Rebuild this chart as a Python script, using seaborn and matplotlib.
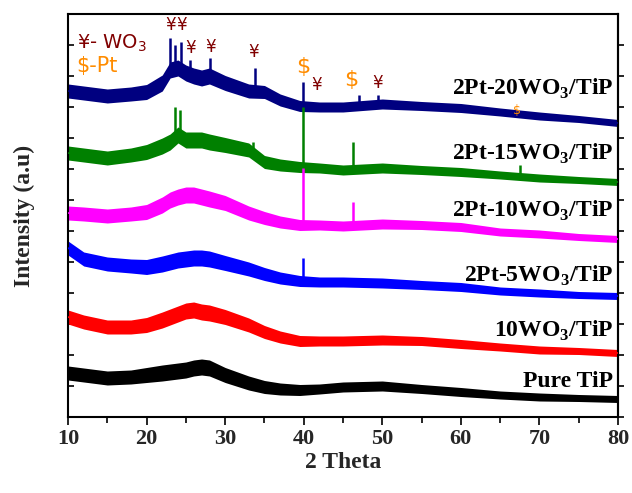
import numpy as np
import pandas as pd
import matplotlib
matplotlib.use("Agg")
import matplotlib.pyplot as plt
import seaborn as sns

# ---------------- data ----------------
theta = [10, 12, 15, 18, 20, 22, 23, 24, 25, 26, 27, 28, 30, 33, 35, 37, 39.5,
         42, 45, 50, 55, 60, 65, 70, 75, 80]

pure_tip = [44, 42, 39, 40, 42, 44, 45, 46, 47, 49, 50, 49, 42, 34, 30, 28, 27,
            28, 30, 31, 28, 25, 22, 20, 19, 18]
wo3_10_tip = [100, 95, 90, 90, 92, 97, 100, 103, 106, 107, 105, 104, 100, 92, 85,
              80, 76, 76, 76, 77, 76, 73, 70, 67, 66, 64]
pt2_wo3_5 = [169, 158, 153, 151, 150, 153, 155, 157, 158, 159, 159, 158, 154, 148,
             143, 139, 136, 135, 135, 134, 132, 130, 126, 124, 122, 121]
pt2_wo3_10 = [204, 203, 201, 203, 205, 212, 217, 220, 222, 222, 220, 218, 214, 204,
              199, 195, 192, 192, 191, 193, 192, 190, 185, 183, 180, 178]
pt2_wo3_15 = [264, 262, 259, 262, 265, 271, 275, 282, 277, 277, 277, 275, 272, 267,
              255, 252, 250, 249, 247, 249, 247, 245, 242, 239, 237, 235]
pt2_wo3_20 = [326, 324, 321, 323, 325, 334, 347, 349, 344, 341, 339, 341, 334, 326,
              325, 317, 311, 310, 310, 313, 311, 309, 305, 301, 298, 294]

# half-width of the noisy band around each pattern
noise_halfwidth = [7, 7, 7, 7, 7.5, 8, 8, 8, 8, 8, 8, 8, 7.5, 7, 6.5, 6, 5.5,
                   5, 5, 5, 4.5, 4.5, 4, 4, 3.5, 3.5]

series_names = ["Pure TiP", "10WO$_3$/TiP", "2Pt-5WO$_3$/TiP",
                "2Pt-10WO$_3$/TiP", "2Pt-15WO$_3$/TiP", "2Pt-20WO$_3$/TiP"]
series_values = [pure_tip, wo3_10_tip, pt2_wo3_5, pt2_wo3_10, pt2_wo3_15, pt2_wo3_20]
series_colors = ["#000000", "#FF0000", "#0000FF", "#FF00FF", "#008000", "#000080"]

# sharp reflections: (series index, 2theta, base, top)
peak_series = [5, 5, 5, 5, 5, 5, 5, 5, 5, 4, 4, 4, 4, 4, 4, 3, 3, 2]
peak_theta = [23.0, 23.6, 24.4, 25.5, 28.1, 33.8, 39.9, 47.0, 49.5,
              23.6, 24.3, 33.6, 39.9, 46.3, 67.5, 39.9, 46.3, 39.9]
peak_base = [347, 349, 349, 344, 341, 326, 310, 311, 313,
             282, 282, 267, 249, 248, 240, 192, 192, 135]
peak_top = [379, 372, 375, 357, 359, 349, 335, 322, 322,
            310, 307, 275, 310, 275, 252, 249, 215, 159]

# sample labels on the right
label_y = [30, 80, 135, 200, 257, 322]

# phase markers
wo3_marker_theta = [23.0, 24.4, 25.6, 28.1, 33.6, 41.6, 49.4]
wo3_marker_y = [392, 392, 369, 370, 365, 332, 334]
pt_marker_theta = [39.9, 46.0, 67.1]
pt_marker_y = [350, 337, 307]
pt_marker_size = [16, 16, 9]

x_ticks = [10, 20, 30, 40, 50, 60, 70, 80]
y_ticks = [0, 31, 62, 93, 124, 155, 186, 217, 248, 279, 310, 341, 372]

# ---------------- plotting ----------------
sns.set_theme(style="ticks")
plt.rcParams["font.family"] = ["Liberation Serif", "DejaVu Sans"]
plt.rcParams["mathtext.fontset"] = "custom"
plt.rcParams["mathtext.rm"] = "Liberation Serif:bold"
plt.rcParams["mathtext.sf"] = "DejaVu Sans"

fig = plt.figure(figsize=(6.32, 4.93), dpi=100)
ax = fig.add_axes([68 / 632, 76 / 493, 550 / 632, 403 / 493])

rows = []
for name, vals in zip(series_names, series_values):
    for t, v in zip(theta, vals):
        rows.append({"theta": t, "intensity": v, "sample": name})
df = pd.DataFrame(rows)

hw = np.array(noise_halfwidth)
for name, vals, col in zip(series_names, series_values, series_colors):
    v = np.array(vals, dtype=float)
    ax.fill_between(theta, v - hw, v + hw, color=col, linewidth=0, zorder=2)

sns.lineplot(data=df, x="theta", y="intensity", hue="sample",
             palette=dict(zip(series_names, series_colors)),
             linewidth=1.2, legend=False, ax=ax, zorder=3)

for si, t, b, tp in zip(peak_series, peak_theta, peak_base, peak_top):
    ax.vlines(t, b, tp, color=series_colors[si], linewidth=1.8, zorder=4)

for name, y in zip(series_names, label_y):
    ax.text(79.4, y, name, ha="right", va="baseline", fontsize=17,
            fontweight="bold", color="black", zorder=5)

ax.text(11.1, 368, "¥- WO$\\mathsf{_3}$", color="#800000", fontsize=14,
        family="DejaVu Sans", ha="left", va="baseline")
ax.text(11.1, 345, "\\$-Pt", color="#FF8C00", fontsize=15,
        family="DejaVu Sans", ha="left", va="baseline")

for t, y in zip(wo3_marker_theta, wo3_marker_y):
    ax.text(t, y, "¥", color="#800000", fontsize=12, family="DejaVu Sans",
            ha="center", va="center")
for t, y, s in zip(pt_marker_theta, pt_marker_y, pt_marker_size):
    ax.text(t, y, "\\$", color="#FF8C00", fontsize=s, family="DejaVu Sans",
            ha="center", va="center")

ax.set_xlim(10, 80)
ax.set_ylim(0, 403)
ax.set_xticks(x_ticks)
ax.set_xticks([15, 25, 35, 45, 55, 65, 75], minor=True)
ax.set_xticklabels([str(v) for v in x_ticks], fontsize=16, fontweight="bold")
ax.set_yticks(y_ticks)
ax.set_yticklabels([])
ax.tick_params(axis="x", which="major", direction="out", length=6, width=1.2,
               pad=3, color="black")
ax.tick_params(axis="x", which="minor", direction="out", length=4, width=1.2,
               color="black")
ax.tick_params(axis="y", direction="in", length=4, width=1.2, left=True,
               right=False, color="black")

sec = ax.secondary_yaxis("right")
sec.set_yticks(y_ticks)
sec.set_yticklabels([])
sec.tick_params(direction="out", length=4, width=1.2, color="black")
sec.spines["right"].set_linewidth(1.5)

for sp in ax.spines.values():
    sp.set_linewidth(1.5)
    sp.set_color("black")

ax.set_xlabel("2 Theta", fontsize=17, fontweight="bold", labelpad=2)
ax.set_ylabel("Intensity (a.u)", fontsize=17, fontweight="bold", labelpad=20)

fig.savefig("out.png", dpi=100)
